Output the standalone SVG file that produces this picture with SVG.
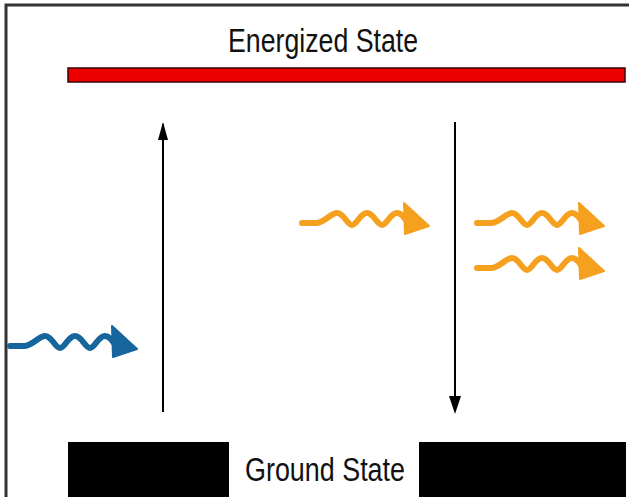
<svg xmlns="http://www.w3.org/2000/svg" width="629" height="497" viewBox="0 0 629 497">
<style>
.lbl{font-family:"Liberation Sans",Arial,sans-serif;font-size:34px;fill:#111}
.wave{fill:none;stroke-width:6;stroke-linecap:round;stroke-linejoin:round}
.trans{stroke:#000;stroke-width:2;fill:none}
</style>
<defs>
<g id="photon">
<path class="wave" d="M0,0 H14 C22,0 29,-10 35,-10 C42,-10 45,2 50,2 C55,2 58,-10 65,-10 C72,-10 75,2 80,2 C85,2 88,-10 95,-10 C100,-10 103,-4 106,0"/>
<path d="M102,-20 L127,3 L103,11 Z" stroke-linejoin="round" stroke-width="2"/>
</g>
</defs>
<rect width="629" height="497" fill="#fff"/>
<g id="frame">
<path d="M6,497 V5 H629" fill="none" stroke="#333" stroke-width="3"/>
</g>
<g id="energized">
<rect x="68" y="68" width="557" height="14" fill="#ee0000" stroke="#3a0000" stroke-width="1.5"/>
<text class="lbl" x="228" y="52" textLength="190" lengthAdjust="spacingAndGlyphs">Energized State</text>
</g>
<g id="ground">
<rect x="68" y="442" width="161" height="55" fill="#000"/>
<rect x="419" y="442" width="207" height="55" fill="#000"/>
<text class="lbl" x="245" y="481" textLength="160" lengthAdjust="spacingAndGlyphs">Ground State</text>
</g>
<g id="connectors">
<line x1="163" y1="412" x2="163" y2="124" class="trans"/>
<path d="M163,122 L158,140 L168,140 Z" fill="#000"/>
<line x1="455" y1="122" x2="455" y2="400" class="trans"/>
<path d="M455,414 L449,396 L461,396 Z" fill="#000"/>
</g>
<g id="photon-in" fill="#16659c" stroke="#16659c">
<use href="#photon" x="10" y="346"/>
</g>
<g id="photon-out1" fill="#f5a01e" stroke="#f5a01e">
<use href="#photon" x="302" y="223"/>
</g>
<g id="photon-out2" fill="#f5a01e" stroke="#f5a01e">
<use href="#photon" x="477" y="223"/>
</g>
<g id="photon-out3" fill="#f5a01e" stroke="#f5a01e">
<use href="#photon" x="477" y="268"/>
</g>
</svg>
